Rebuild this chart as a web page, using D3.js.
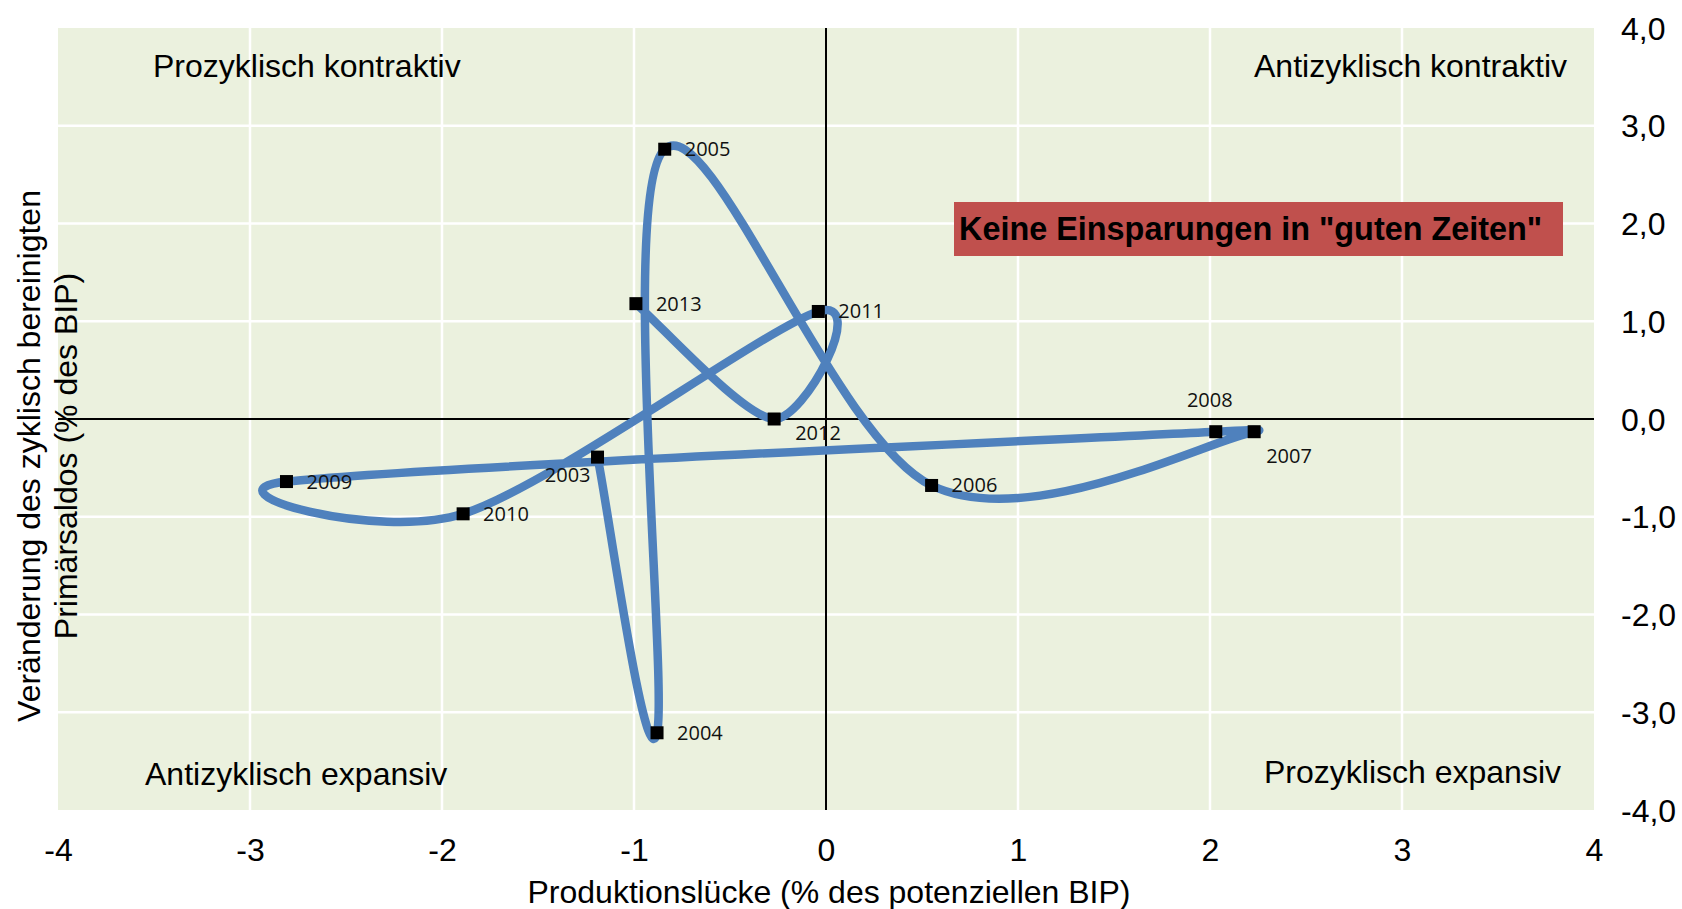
<!DOCTYPE html>
<html>
<head>
<meta charset="utf-8">
<script src="https://cdnjs.cloudflare.com/ajax/libs/d3/7.8.5/d3.min.js"></script>
<style>
  body { margin: 0; background: #fff; }
  text { font-family: 'Liberation Sans', Arial, sans-serif; fill: #000; }
</style>
</head>
<body>
<div id="vis"></div>
<script>
// Werte
var years = ['2003', '2004', '2005', '2006', '2007', '2008', '2009', '2010', '2011', '2012', '2013'];
var outputGap = [-1.19, -0.88, -0.84, 0.55, 2.23, 2.03, -2.81, -1.89, -0.04, -0.27, -0.99];
var balanceChange = [-0.39, -3.21, 2.76, -0.68, -0.13, -0.13, -0.64, -0.97, 1.10, 0.00, 1.18];

var xTicks = [-4, -3, -2, -1, 0, 1, 2, 3, 4];
var yTicks = [-4, -3, -2, -1, 0, 1, 2, 3, 4];

var xTitle = 'Produktionslücke (% des potenziellen BIP)';
var yTitle = ['Veränderung des zyklisch bereinigten', 'Primärsaldos (% des BIP)'];
var quadrants = ['Prozyklisch kontraktiv', 'Antizyklisch kontraktiv', 'Antizyklisch expansiv', 'Prozyklisch expansiv'];
var callout = 'Keine Einsparungen in "guten Zeiten"';

// where each year label sits next to its marker
var labelPlace = {
    '2003': {dx: -7, dy: 18, anchor: 'end'},
    '2007': {dx: 12, dy: 24, anchor: 'start'},
    '2008': {dx: -6, dy: -32, anchor: 'middle'},
    '2012': {dx: 21, dy: 14, anchor: 'start'}
};
var defaultPlace = {dx: 20, dy: 0, anchor: 'start'};

var width = 1682, height = 909;
var plot = {left: 58, right: 1594, top: 28, bottom: 810};

var data = years.map((y, i) => ({year: y, x: outputGap[i], y: balanceChange[i]}));

var x = d3.scaleLinear().domain([-4, 4]).range([plot.left, plot.right]);
var y = d3.scaleLinear().domain([-4, 4]).range([plot.bottom, plot.top]);

var de = d3.formatLocale({decimal: ',', thousands: '.', grouping: [3], currency: ['', '€'], minus: '-'});
var fmtY = de.format('.1f');
var fmtX = de.format('d');

// Excel-style smoothed line: cubic beziers, tangent 1/6, capped at half a segment
function excelSmooth(pts) {
    var p = d3.path();
    var dist = (a, b) => Math.hypot(a[0] - b[0], a[1] - b[1]);
    p.moveTo(pts[0][0], pts[0][1]);
    for (var i = 0; i < pts.length - 1; i++) {
        var p0 = pts[Math.max(i - 1, 0)], p1 = pts[i], p2 = pts[i + 1],
            p3 = pts[Math.min(i + 2, pts.length - 1)];
        var d12 = dist(p1, p2), d02 = dist(p0, p2), d13 = dist(p1, p3);
        var f1 = d02 / 6 < d12 / 2 ? 1 / 6 : d12 / (2 * d02);
        var f2 = d13 / 6 < d12 / 2 ? 1 / 6 : d12 / (2 * d13);
        p.bezierCurveTo(
            p1[0] + f1 * (p2[0] - p0[0]), p1[1] + f1 * (p2[1] - p0[1]),
            p2[0] - f2 * (p3[0] - p1[0]), p2[1] - f2 * (p3[1] - p1[1]),
            p2[0], p2[1]);
    }
    return p.toString();
}

var svg = d3.select('#vis').append('svg')
    .attr('width', width)
    .attr('height', height);

svg.append('rect')
    .attr('x', plot.left)
    .attr('y', plot.top)
    .attr('width', plot.right - plot.left)
    .attr('height', plot.bottom - plot.top)
    .attr('fill', '#EBF1DE');

// white grid
svg.append('g').selectAll('line')
    .data(xTicks.filter(d => d > -4 && d < 4 && d !== 0))
    .enter().append('line')
        .attr('x1', d => x(d)).attr('x2', d => x(d))
        .attr('y1', plot.top).attr('y2', plot.bottom)
        .attr('stroke', '#fff').attr('stroke-width', 2.5);

svg.append('g').selectAll('line')
    .data(yTicks.filter(d => d > -4 && d < 4 && d !== 0))
    .enter().append('line')
        .attr('x1', plot.left).attr('x2', plot.right)
        .attr('y1', d => y(d)).attr('y2', d => y(d))
        .attr('stroke', '#fff').attr('stroke-width', 2.5);

// zero lines
svg.append('line')
    .attr('x1', x(0)).attr('x2', x(0))
    .attr('y1', plot.top).attr('y2', plot.bottom)
    .attr('stroke', '#000').attr('stroke-width', 2);
svg.append('line')
    .attr('x1', plot.left).attr('x2', plot.right)
    .attr('y1', y(0)).attr('y2', y(0))
    .attr('stroke', '#000').attr('stroke-width', 2);

// axes (labels only)
var xAxis = svg.append('g')
    .attr('transform', 'translate(0,' + (plot.bottom + 51) + ')')
    .call(d3.axisBottom(x).tickValues(xTicks).tickSize(0).tickPadding(0).tickFormat(fmtX));
xAxis.select('.domain').remove();
xAxis.selectAll('text')
    .attr('dy', 0)
    .style('font-size', '32px')
    .style('font-family', "'Liberation Sans', Arial, sans-serif");

var yAxis = svg.append('g')
    .attr('transform', 'translate(' + (plot.right + 27) + ',0)')
    .call(d3.axisRight(y).tickValues(yTicks).tickSize(0).tickPadding(0).tickFormat(fmtY));
yAxis.select('.domain').remove();
yAxis.selectAll('text')
    .attr('dy', '0.35em')
    .style('font-size', '32px')
    .style('font-family', "'Liberation Sans', Arial, sans-serif");

// axis titles
svg.append('text')
    .attr('x', 829)
    .attr('y', 903)
    .attr('text-anchor', 'middle')
    .style('font-size', '32px')
    .text(xTitle);

svg.append('g')
    .attr('transform', 'translate(40,456) rotate(-90)')
    .selectAll('text')
    .data(yTitle)
    .enter().append('text')
        .attr('x', 0)
        .attr('y', (d, i) => i * 37)
        .attr('text-anchor', 'middle')
        .style('font-size', '32px')
        .text(d => d);

// quadrant names
var qPos = [
    {x: plot.left + 95, y: plot.top + 49, anchor: 'start'},
    {x: plot.right - 27, y: plot.top + 49, anchor: 'end'},
    {x: plot.left + 87, y: plot.bottom - 25, anchor: 'start'},
    {x: plot.right - 33, y: plot.bottom - 27, anchor: 'end'}
];
svg.append('g').selectAll('text')
    .data(quadrants)
    .enter().append('text')
        .attr('x', (d, i) => qPos[i].x)
        .attr('y', (d, i) => qPos[i].y)
        .attr('text-anchor', (d, i) => qPos[i].anchor)
        .style('font-size', '32px')
        .text(d => d);

// red callout box
var box = svg.append('g');
box.append('rect')
    .attr('x', 954).attr('y', 202)
    .attr('width', 609).attr('height', 54)
    .attr('fill', '#C0504D');
box.append('text')
    .attr('x', 959).attr('y', 240)
    .style('font-size', '32.4px')
    .style('font-weight', 'bold')
    .text(callout);

// smoothed path
svg.append('path')
    .attr('d', excelSmooth(data.map(d => [x(d.x), y(d.y)])))
    .attr('fill', 'none')
    .attr('stroke', '#4F81BD')
    .attr('stroke-width', 8.5)
    .attr('stroke-linejoin', 'round')
    .attr('stroke-linecap', 'round');

var ms = 13;
svg.append('g').selectAll('rect')
    .data(data)
    .enter().append('rect')
        .attr('x', d => x(d.x) - ms / 2)
        .attr('y', d => y(d.y) - ms / 2)
        .attr('width', ms)
        .attr('height', ms)
        .attr('fill', '#000');

svg.append('g').selectAll('text')
    .data(data)
    .enter().append('text')
        .attr('x', d => x(d.x) + (labelPlace[d.year] || defaultPlace).dx)
        .attr('y', d => y(d.y) + (labelPlace[d.year] || defaultPlace).dy)
        .attr('dy', '0.35em')
        .attr('text-anchor', d => (labelPlace[d.year] || defaultPlace).anchor)
        .style('font-family', "'Open Sans', sans-serif")
        .style('font-size', '20px')
        .style('fill', '#111')
        .text(d => d.year);
</script>
</body>
</html>
